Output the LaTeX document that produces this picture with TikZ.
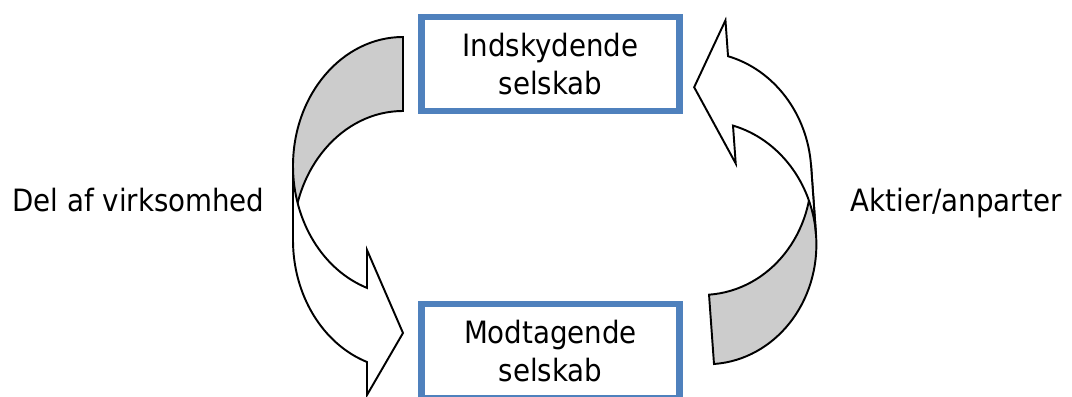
\documentclass[tikz,border=0pt]{standalone}
\usepackage{fontspec}
\setmainfont{DejaVu Sans Condensed}
\usetikzlibrary{positioning}
\definecolor{kasseblaa}{HTML}{4F81BD}

\tikzset{
    selskab/.style={draw=kasseblaa, line width=3.7pt, minimum width=5.16cm,
        minimum height=1.88cm, inner sep=0pt, align=center,
        font=\fontsize{17.5}{21.5}\selectfont},
    etiket/.style={anchor=base, font=\fontsize{17.5}{21.5}\selectfont},
    bagside/.style={draw, line width=1.1pt, fill=black!20},
    forside/.style={draw, line width=1.1pt, fill=white}
}

\begin{document}
\begin{tikzpicture}
        \useasboundingbox (0,0) rectangle (21.44,7.94);

        % the two companies
        \node[selskab] (indskyd) at (11.01,6.66) {Indskydende\\selskab};
        \node[selskab] (modtag) at (11.01,0.92) {Modtagende\\selskab};

        % labels beside the arrows
        \node[etiket] (del) at (2.77,3.71) {Del af virksomhed};
        \node[etiket] (aktier) at (19.12,3.71) {Aktier/anparter};

        % left curved arrow (down to the receiving company)
        \begin{scope}[shift={(8.06,7.20)}]
            % back face
            \draw[bagside] (0,0) arc[start angle=90, end angle=180, x radius=2.2, y radius=2.58]
                -- (-2.2,-4.06) arc[start angle=180, end angle=90, x radius=2.2, y radius=2.58] -- cycle;
            % front face with head
            \draw[forside] (-2.2,-2.58) arc[start angle=180, end angle=250.9, x radius=2.2, y radius=2.58]
                -- (-0.72,-4.26) -- (0,-5.92) -- (-0.72,-7.16) -- (-0.72,-6.50)
                arc[start angle=250.9, end angle=180, x radius=2.2, y radius=2.58] -- cycle;
        \end{scope}

        % right curved arrow (up to the contributing company)
        \begin{scope}[shift={(14.28,0.66)}, rotate=184.1]
            % back face
            \draw[bagside] (0,0) arc[start angle=90, end angle=180, x radius=2.22, y radius=2.43]
                -- (-2.22,-3.82) arc[start angle=180, end angle=90, x radius=2.22, y radius=2.43] -- cycle;
            % front face with head
            \draw[forside] (-2.22,-2.43) arc[start angle=180, end angle=251.08, x radius=2.22, y radius=2.43]
                -- (-0.72,-3.97) -- (0,-5.55) -- (-0.72,-6.84) -- (-0.72,-6.12)
                arc[start angle=251.08, end angle=180, x radius=2.22, y radius=2.43] -- cycle;
        \end{scope}

    \end{tikzpicture}
\end{document}
